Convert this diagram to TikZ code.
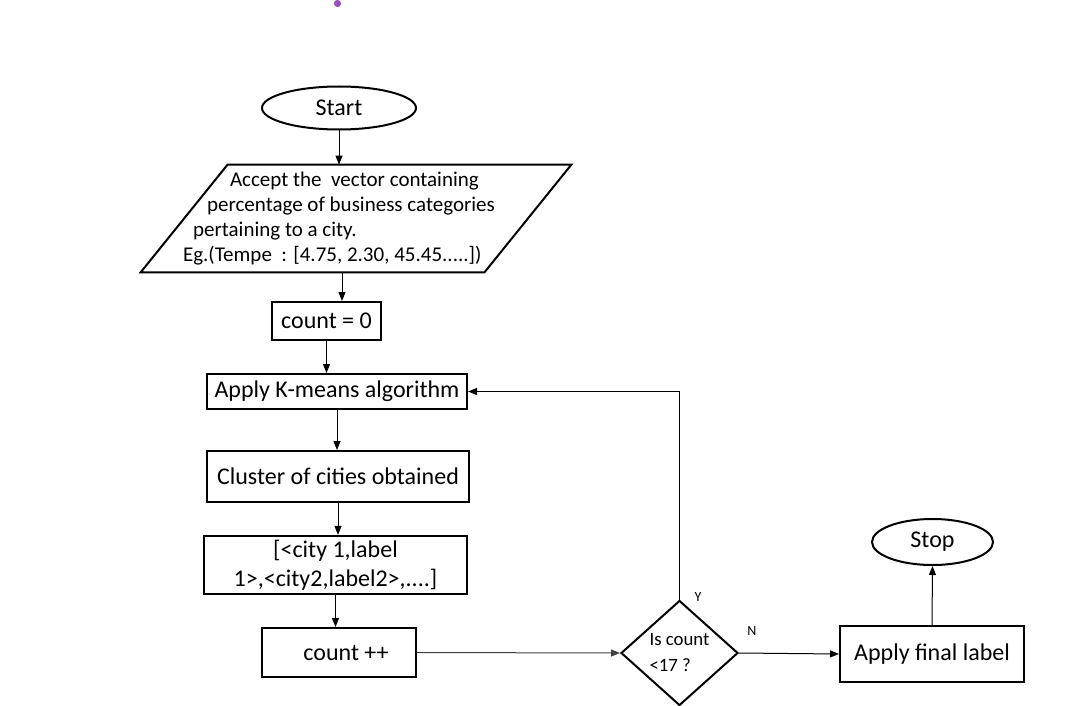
\documentclass[tikz,border=0pt]{standalone}
\usepackage{fontspec}
\setmainfont{Carlito}
\usetikzlibrary{arrows.meta, positioning, shapes.geometric}
\definecolor{dotpurple}{RGB}{155,80,185}

\begin{document}
\begin{tikzpicture}[
    x=0.5pt, y=-0.5pt,
    >={Triangle[length=4.5pt, width=3.5pt]},
    block/.style={rectangle, draw, line width=1pt, inner sep=2pt, align=center, font=\fontsize{12}{14.5}\selectfont},
    term/.style={ellipse, draw, line width=1pt, inner sep=0pt, font=\fontsize{12}{14.5}\selectfont},
    io/.style={rectangle, inner sep=0pt},
    decision/.style={diamond, draw, line width=1pt, inner sep=0pt, align=left, font=\fontsize{9.4}{13}\selectfont},
    lbl/.style={font=\fontsize{7}{8}\selectfont},
    flow/.style={->, line width=0.5pt}
    ]
    \useasboundingbox (0,0) rectangle (1081,706);

    % Marker dot
    \fill[dotpurple] (337.5,3.5) circle (1.8pt);

    % Start
    \node[term, minimum width=77pt, minimum height=21.5pt] (start) at (339,108) {Start};

    % Input vector (parallelogram)
    \node[io, minimum width=171.5pt, minimum height=53.5pt] (accept) at (356,218.5) {};
    \draw[line width=1pt] ([xshift=-21.75pt]accept.south west) -- ([xshift=21.75pt]accept.north west)
        -- ([xshift=21.75pt]accept.north east) -- ([xshift=-21.75pt]accept.south east) -- cycle;
    \node[anchor=west, align=left, font=\fontsize{10.5}{12.5}\selectfont] (acceptTxt) at (176,218.5)
        {\hspace*{23.5pt}Accept the\ \ vector containing\\
         \hspace*{12pt}percentage of business categories\\
         \hspace*{5pt}pertaining to a city.\\
         Eg.(Tempe\ \ : [4.75, 2.30, 45.45.....])};
    \draw[flow] (start.south) -- (start.south |- accept.north);

    % Counter init
    \node[block, minimum width=54.5pt, minimum height=19pt] (count0) at (326.5,321) {count = 0};
    \draw[flow] ([xshift=-7pt]accept.south) -- ([xshift=-7pt]accept.south |- count0.north);

    % Clustering
    \node[block, minimum width=130pt, minimum height=17.5pt] (kmeans) at (337,391.5) {Apply K-means algorithm};
    \draw[flow] (count0.south) -- (count0.south |- kmeans.north);

    \node[block, minimum width=131pt, minimum height=25.5pt] (cluster) at (338,476.5) {Cluster of cities obtained};
    \draw[flow] (kmeans.south) -- (kmeans.south |- cluster.north);

    \node[block, minimum width=131.5pt, minimum height=27pt] (pairs) at (335.5,565) {[<city 1,label\\1>,<city2,label2>,....]};
    \draw[flow] (cluster.south) -- (cluster.south |- pairs.north);

    % Counter step
    \node[block, minimum width=77pt, minimum height=24.5pt] (countinc) at (339,652.5) {\hspace*{7pt}count ++};
    \draw[flow] (pairs.south) -- (pairs.south |- countinc.north);

    % Decision
    \node[decision, minimum width=58.5pt, minimum height=52.5pt] (decide) at (679.5,653) {Is count\\<17 ?};
    \draw[flow, black!75] (countinc.east) -- (decide.west);
    \draw[flow] (decide.north) -- node[lbl, pos=0.01, right=4pt] {Y} (decide.north |- kmeans.east) -- (kmeans.east);

    % Final label and stop
    \node[block, minimum width=92pt, minimum height=28pt] (final) at (932,654) {Apply final label};
    \draw[flow] (decide.east) -- node[lbl, pos=0.13, above, yshift=5pt] {N} (final.west);

    \node[term, minimum width=60.5pt, minimum height=23pt] (stop) at (932.5,542) {Stop};
    \draw[flow] (final.north) -- (stop.south);

\end{tikzpicture}
\end{document}
